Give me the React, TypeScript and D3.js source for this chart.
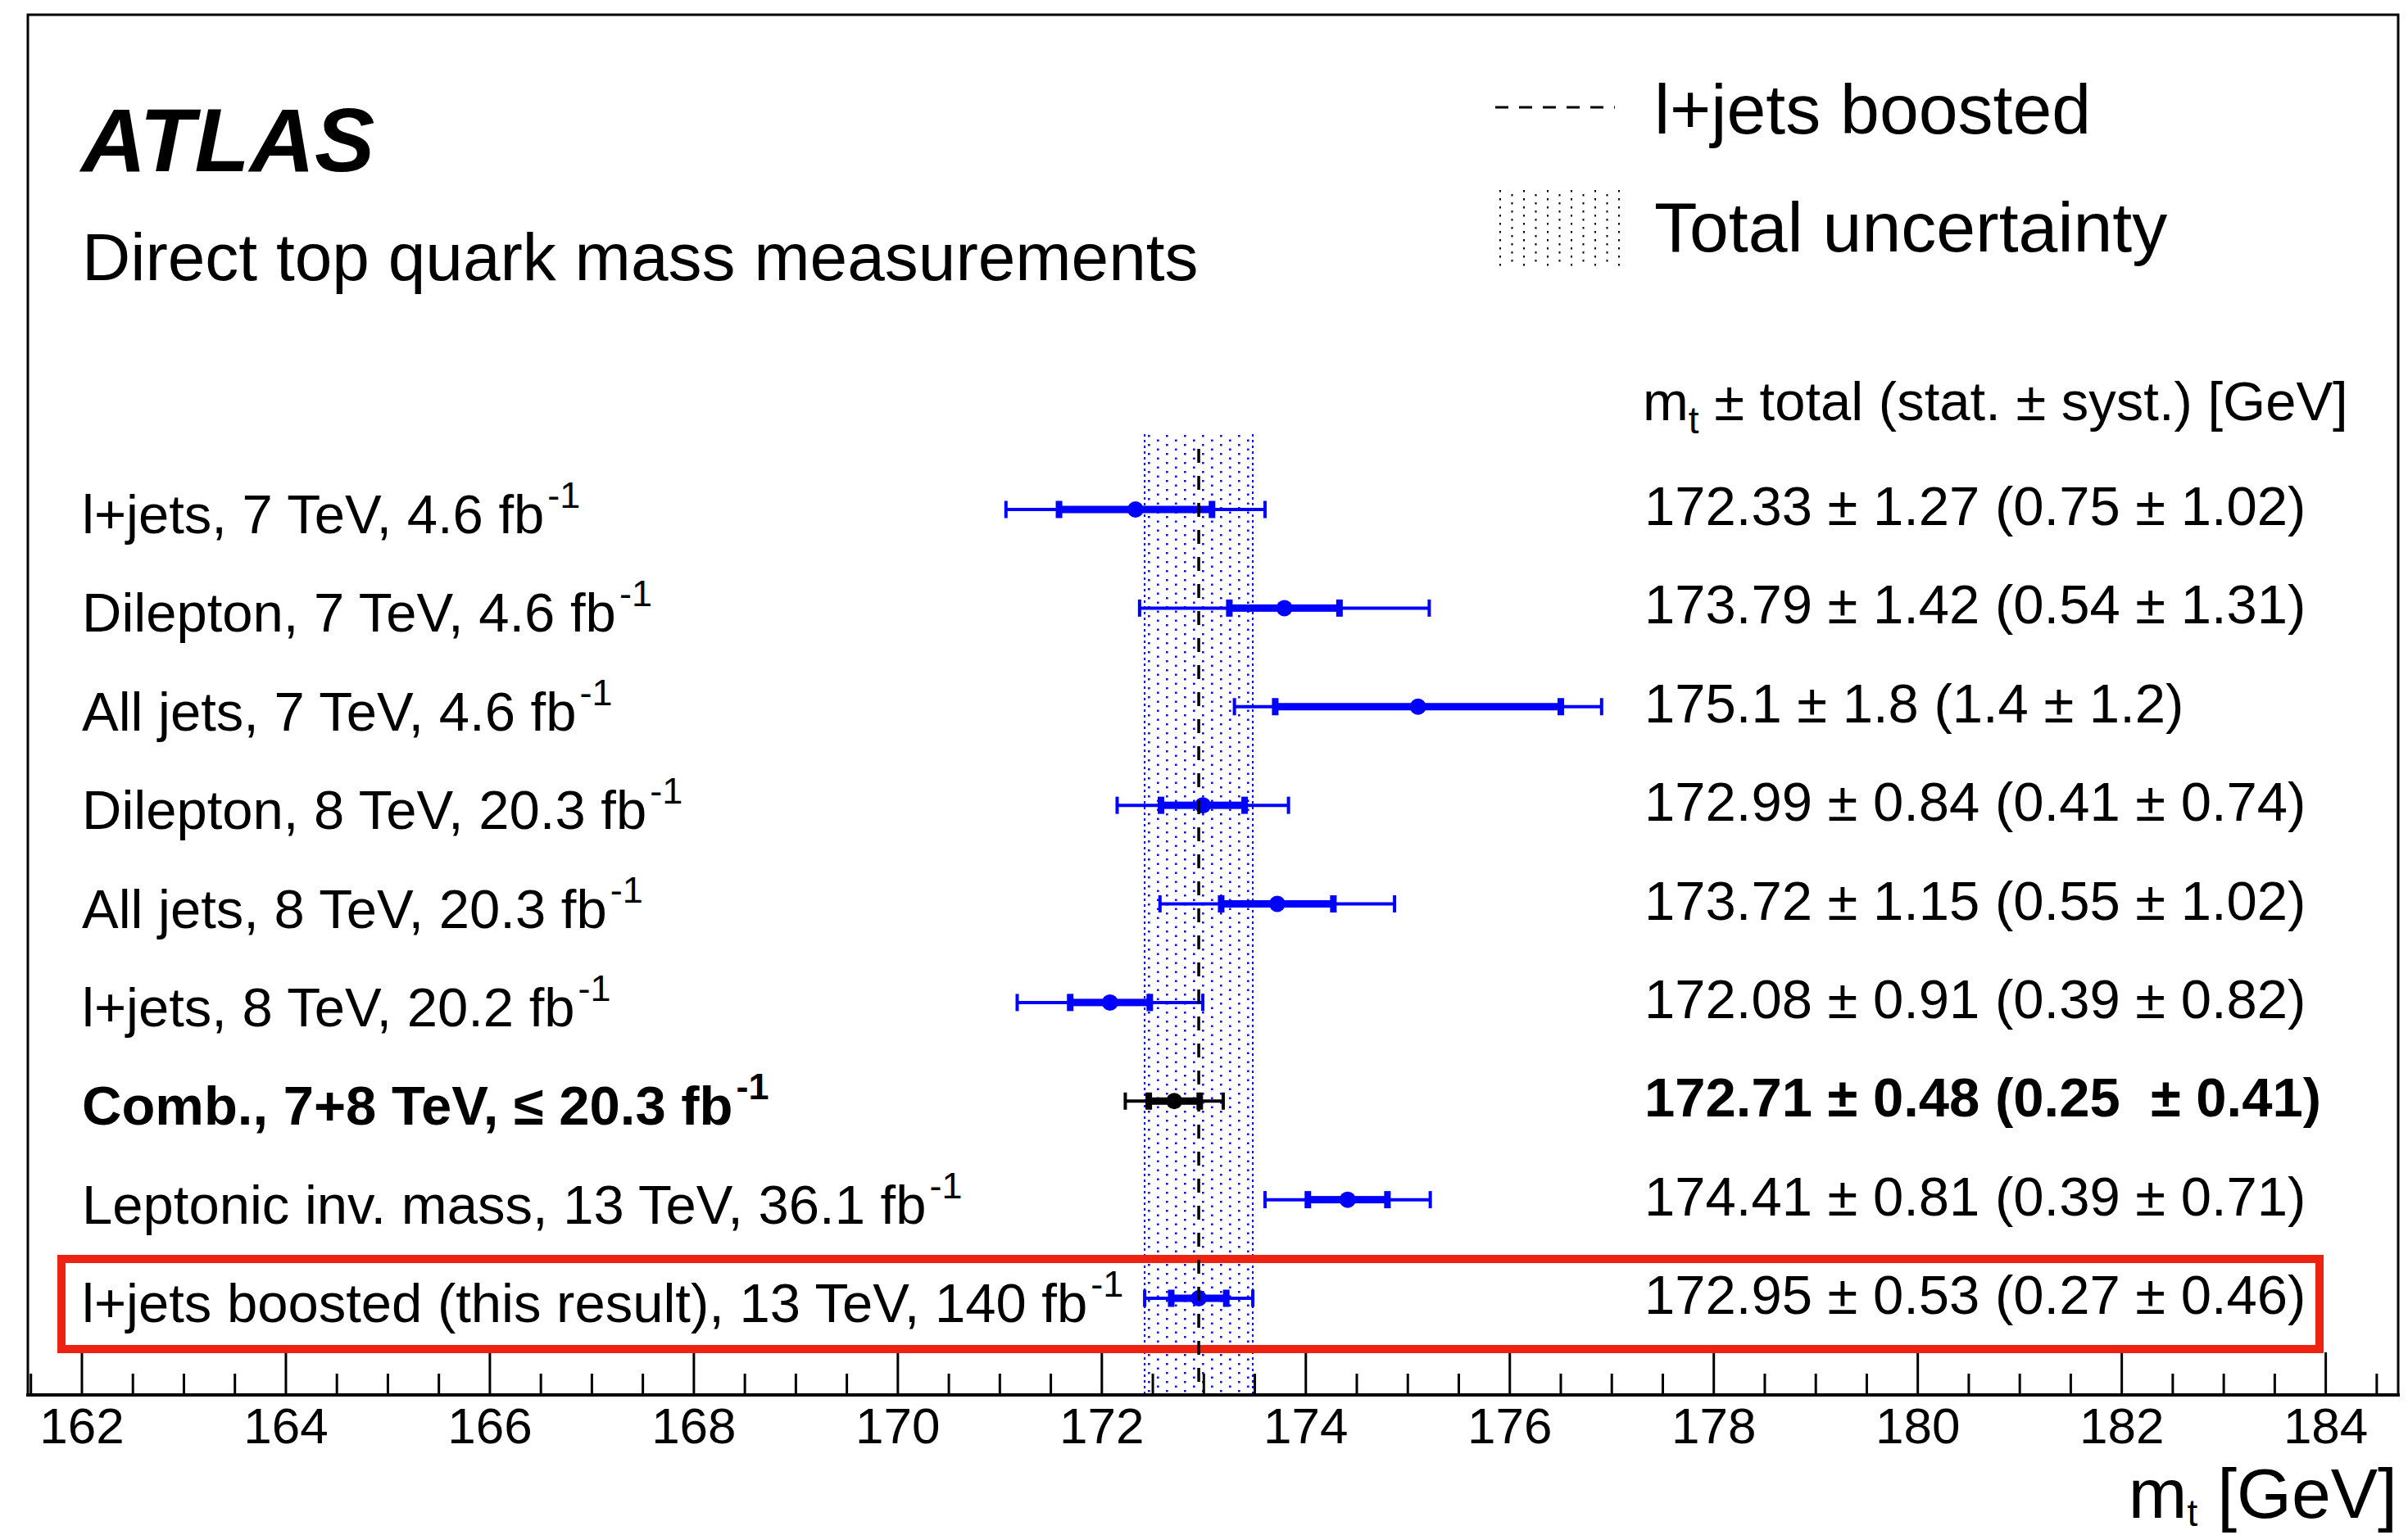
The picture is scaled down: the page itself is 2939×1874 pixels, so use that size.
import React from "react";
import * as d3 from "d3";

// ---------- data ----------
const labels = [
  "l+jets, 7 TeV, 4.6 fb",
  "Dilepton, 7 TeV, 4.6 fb",
  "All jets, 7 TeV, 4.6 fb",
  "Dilepton, 8 TeV, 20.3 fb",
  "All jets, 8 TeV, 20.3 fb",
  "l+jets, 8 TeV, 20.2 fb",
  "Comb., 7+8 TeV, \u2264 20.3 fb",
  "Leptonic inv. mass, 13 TeV, 36.1 fb",
  "l+jets boosted (this result), 13 TeV, 140 fb",
];
const central = [172.33, 173.79, 175.1, 172.99, 173.72, 172.08, 172.71, 174.41, 172.95];
const totalErr = [1.27, 1.42, 1.8, 0.84, 1.15, 0.91, 0.48, 0.81, 0.53];
const statErr = [0.75, 0.54, 1.4, 0.41, 0.55, 0.39, 0.25, 0.39, 0.27];
const valueLabels = [
  "172.33 \u00b1 1.27 (0.75 \u00b1 1.02)",
  "173.79 \u00b1 1.42 (0.54 \u00b1 1.31)",
  "175.1 \u00b1 1.8 (1.4 \u00b1 1.2)",
  "172.99 \u00b1 0.84 (0.41 \u00b1 0.74)",
  "173.72 \u00b1 1.15 (0.55 \u00b1 1.02)",
  "172.08 \u00b1 0.91 (0.39 \u00b1 0.82)",
  "172.71 \u00b1 0.48 (0.25  \u00b1 0.41)",
  "174.41 \u00b1 0.81 (0.39 \u00b1 0.71)",
  "172.95 \u00b1 0.53 (0.27 \u00b1 0.46)",
];
const isCombination = [false, false, false, false, false, false, true, false, false];
const refIndex = 8; // l+jets boosted reference line & band
const majorTicks = [162, 164, 166, 168, 170, 172, 174, 176, 178, 180, 182, 184];
const xDomain = [161.47, 184.71];

const W = 2939;
const H = 1874;
const FONT = "'Liberation Sans', Arial, Helvetica, sans-serif";

export default function App() {
  const x = d3.scaleLinear().domain(xDomain).range([34, 2927]);
  const y = d3.scaleLinear().domain([0, labels.length - 1]).range([622, 1585]);
  const axisY = 1703;
  const minorTicks = d3
    .range(161.5, 184.71, 0.5)
    .filter((v) => !majorTicks.some((m) => Math.abs(m - v) < 1e-6));

  const refLo = central[refIndex] - totalErr[refIndex];
  const refHi = central[refIndex] + totalErr[refIndex];
  const blue = "#0000ff";

  return (
    <svg
      width={W}
      height={H}
      style={{ position: "absolute", left: 0, top: 0, background: "#fff" }}
      fontFamily={FONT}
    >
      <defs>
        <pattern id="bandDots" width={22} height={11} patternUnits="userSpaceOnUse" x={x(refLo)} y={530}>
          <rect x={4} y={1} width={2.5} height={2.5} fill={blue} />
          <rect x={15} y={6.5} width={2.5} height={2.5} fill={blue} />
        </pattern>
        <pattern id="legDots" width={29} height={10} patternUnits="userSpaceOnUse" x={1828} y={230}>
          <rect x={2} y={2} width={2} height={2.5} fill="#000" />
          <rect x={16.5} y={7} width={2} height={2.5} fill="#000" />
        </pattern>
      </defs>
      <rect x={0} y={0} width={W} height={H} fill="#fff" />

      {/* uncertainty band */}
      <rect x={x(refLo)} y={530} width={x(refHi) - x(refLo)} height={axisY - 530} fill="url(#bandDots)" />
      <line x1={x(refLo)} x2={x(refLo)} y1={530} y2={axisY} stroke={blue} strokeWidth={2} strokeDasharray="3 4" />
      <line x1={x(refHi)} x2={x(refHi)} y1={530} y2={axisY} stroke={blue} strokeWidth={2} strokeDasharray="3 4" />

      {/* frame */}
      <rect x={34} y={18} width={2893} height={axisY - 18} fill="none" stroke="#000" strokeWidth={3} />

      {/* axis ticks */}
      {majorTicks.map((t) => (
        <line key={"M" + t} x1={x(t)} x2={x(t)} y1={axisY} y2={axisY - 52} stroke="#000" strokeWidth={3} />
      ))}
      {minorTicks.map((t) => (
        <line key={"m" + t} x1={x(t)} x2={x(t)} y1={axisY} y2={axisY - 26} stroke="#000" strokeWidth={3} />
      ))}
      <line x1={32} x2={2929} y1={axisY} y2={axisY} stroke="#000" strokeWidth={4} />
      {majorTicks.map((t) => (
        <text key={"L" + t} x={x(t)} y={1762} fontSize={62} textAnchor="middle">
          {t}
        </text>
      ))}
      <text x={2926} y={1853} fontSize={86} textAnchor="end">
        m
        <tspan fontSize={46} dy={10}>t</tspan>
        <tspan dy={-10}> [GeV]</tspan>
      </text>

      {/* highlight box */}
      <rect x={75} y={1537} width={2756} height={110} fill="none" stroke="#ee2211" strokeWidth={10} />

      {/* error bars */}
      {central.map((c, i) => {
        const col = isCombination[i] ? "#000" : blue;
        const yy = y(i);
        const tLo = x(c - totalErr[i]);
        const tHi = x(c + totalErr[i]);
        const sLo = x(c - statErr[i]);
        const sHi = x(c + statErr[i]);
        return (
          <g key={"bar" + i}>
            <line x1={tLo} x2={tHi} y1={yy} y2={yy} stroke={col} strokeWidth={4} />
            <rect x={sLo} y={yy - 4.5} width={sHi - sLo} height={9} fill={col} />
            <rect x={tLo - 2} y={yy - 10.5} width={4} height={21} fill={col} />
            <rect x={tHi - 2} y={yy - 10.5} width={4} height={21} fill={col} />
            <rect x={sLo - 4} y={yy - 10.5} width={8} height={21} fill={col} />
            <rect x={sHi - 4} y={yy - 10.5} width={8} height={21} fill={col} />
            <circle cx={x(c)} cy={yy} r={10} fill={col} />
          </g>
        );
      })}

      {/* reference dashed line */}
      <line
        x1={x(central[refIndex])}
        x2={x(central[refIndex])}
        y1={548}
        y2={axisY}
        stroke="#000"
        strokeWidth={3.5}
        strokeDasharray="17 16"
      />

      {/* row labels */}
      {labels.map((l, i) => (
        <text
          key={"lab" + i}
          x={100}
          y={y(i) + 29}
          fontSize={67}
          fontWeight={isCombination[i] ? "bold" : "normal"}
        >
          {l}
          <tspan fontSize={45} dx={4} dy={-31}>-1</tspan>
        </text>
      ))}

      {/* values */}
      <text x={2005} y={513} fontSize={67}>
        m
        <tspan fontSize={46} dy={16}>t</tspan>
        <tspan dy={-16}>{" \u00b1 total (stat. \u00b1 syst.) [GeV]"}</tspan>
      </text>
      {valueLabels.map((v, i) => (
        <text
          key={"val" + i}
          x={2007}
          y={y(i) + 19}
          fontSize={67}
          fontWeight={isCombination[i] ? "bold" : "normal"}
          style={{ whiteSpace: "pre" }}
        >
          {v}
        </text>
      ))}

      {/* titles */}
      <text x={99} y={209} fontSize={110} fontWeight="bold" fontStyle="italic">
        ATLAS
      </text>
      <text x={100} y={342} fontSize={82}>
        Direct top quark mass measurements
      </text>

      {/* legend */}
      <line x1={1825} x2={1971} y1={131} y2={131} stroke="#000" strokeWidth={3} strokeDasharray="16 13" />
      <text x={2019} y={163} fontSize={86}>
        l+jets boosted
      </text>
      <rect x={1828} y={230} width={156} height={95} fill="url(#legDots)" />
      <text x={2019} y={307} fontSize={86}>
        Total uncertainty
      </text>
    </svg>
  );
}
